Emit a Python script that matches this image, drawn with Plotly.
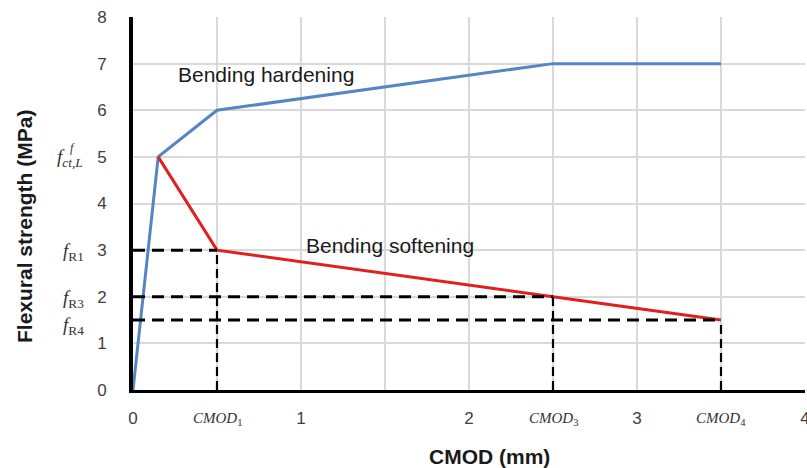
import plotly.graph_objects as go

# ---- data ----
hardening_x = [0, 0.15, 0.5, 2.5, 3.5]
hardening_y = [0, 5, 6, 7, 7]
softening_x = [0.15, 0.5, 2.5, 3.5]
softening_y = [5, 3, 2, 1.5]
cmod_pts = [0.5, 2.5, 3.5]          # CMOD1, CMOD3, CMOD4
cmod_names = ["1", "3", "4"]
fR_vals = [3, 2, 1.5]               # fR1, fR3, fR4
fR_names = ["R1", "R3", "R4"]
f_ctL = 5
x_tickvals = [0, 0.5, 1, 1.5, 2, 2.5, 3, 3.5, 4]
x_ticktext = ["0", " ", "1", " ", "2", " ", "3", " ", "4"]
y_tickvals = [0, 1, 2, 3, 4, 5, 6, 7, 8]
y_ticktext = ["0", "1", "2", "3", "4", "5", "6", "7", "8"]

W, H = 807, 468
L, R, T, B = 133, 2, 17, 78
pw, ph = W - L - R, H - T - B


def px_x(p):
    return (p - L) / pw


def px_y(p):
    return (H - B - p) / ph


SANS = "Liberation Sans, Arial, sans-serif"
SERIF = "Liberation Serif, Times New Roman, serif"

fig = go.Figure()

fig.add_trace(go.Scatter(x=hardening_x, y=hardening_y, mode="lines",
                         line=dict(color="#5585C2", width=3), hoverinfo="skip"))
fig.add_trace(go.Scatter(x=softening_x, y=softening_y, mode="lines",
                         line=dict(color="#E0201E", width=3), hoverinfo="skip"))

for cx, fy in zip(cmod_pts, fR_vals):
    fig.add_trace(go.Scatter(x=[0, cx], y=[fy, fy], mode="lines",
                             line=dict(color="black", width=3, dash="12px,7px"),
                             hoverinfo="skip"))
    fig.add_trace(go.Scatter(x=[cx, cx], y=[0, fy], mode="lines",
                             line=dict(color="black", width=2.2, dash="9px,5px"),
                             hoverinfo="skip"))

annotations = []
annotations.append(dict(x=0.79, y=6.76, xref="x", yref="y", text="Bending hardening",
                        xanchor="center", yanchor="middle",
                        showarrow=False, font=dict(family=SANS, size=21, color="#1a1a1a")))
annotations.append(dict(x=1.53, y=3.11, xref="x", yref="y", text="Bending softening",
                        xanchor="center", yanchor="middle",
                        showarrow=False, font=dict(family=SANS, size=21, color="#1a1a1a")))

# axis titles
annotations.append(dict(x=px_x(489), y=px_y(456), xref="paper", yref="paper",
                        xanchor="center", yanchor="middle",
                        text="<b>CMOD (mm)</b>", showarrow=False,
                        font=dict(family=SANS, size=21, color="#1a1a1a")))
annotations.append(dict(x=px_x(25), y=px_y(226), xref="paper", yref="paper",
                        xanchor="center", yanchor="middle",
                        text="<b>Flexural strength (MPa)</b>", showarrow=False, textangle=-90,
                        font=dict(family=SANS, size=21, color="#1a1a1a")))

# CMOD labels on x axis
for cx, nm in zip(cmod_pts, cmod_names):
    annotations.append(dict(x=cx, y=px_y(419), xref="x", yref="paper",
                            xanchor="center", yanchor="middle",
                            text="<i>CMOD</i><sub>%s</sub>" % nm, showarrow=False,
                            font=dict(family=SERIF, size=15, color="#333333")))

# fR labels on y axis
for fy, nm in zip(fR_vals, fR_names):
    annotations.append(dict(x=px_x(86), y=fy, xref="paper", yref="y", xanchor="right",
                            yanchor="middle",
                            yshift=-2 if fy != 1.5 else -6,
                            text="<i>f</i><sub>%s</sub>" % nm, showarrow=False,
                            font=dict(family=SERIF, size=19, color="#333333")))

# f^f_{ct,L}
annotations.append(dict(x=px_x(55), y=f_ctL, xref="paper", yref="y", xanchor="left",
                        yanchor="middle", yshift=-1,
                        text="<i>f</i><sub><i>ct,L</i></sub>", showarrow=False,
                        font=dict(family=SERIF, size=19, color="#333333")))
annotations.append(dict(x=px_x(68), y=f_ctL, xref="paper", yref="y", xanchor="left",
                        yanchor="middle", yshift=9,
                        text="<i>f</i>", showarrow=False,
                        font=dict(family=SERIF, size=12, color="#333333")))

fig.update_layout(
    width=W, height=H,
    margin=dict(l=L, r=R, t=T, b=B),
    paper_bgcolor="white", plot_bgcolor="white",
    showlegend=False,
    annotations=annotations,
    xaxis=dict(range=[0, 4], tickvals=x_tickvals, ticktext=x_ticktext,
               showgrid=True, gridcolor="#D9D9D9", gridwidth=2,
               showline=True, linecolor="black", linewidth=3,
               zeroline=False, ticks="", ticklabelstandoff=11, automargin=False,
               ticklabeloverflow="allow",
               tickfont=dict(family=SANS, size=17, color="#404040")),
    yaxis=dict(range=[0, 8], tickvals=y_tickvals, ticktext=y_ticktext,
               showgrid=True, gridcolor="#D9D9D9", gridwidth=2,
               showline=True, linecolor="black", linewidth=4,
               zeroline=False, ticks="", ticklabelstandoff=19, automargin=False,
               tickfont=dict(family=SANS, size=17, color="#404040")),
)

fig.write_html("out.html", config={"displayModeBar": False},
               post_script="document.body.style.margin='0';document.body.style.overflow='hidden';")
